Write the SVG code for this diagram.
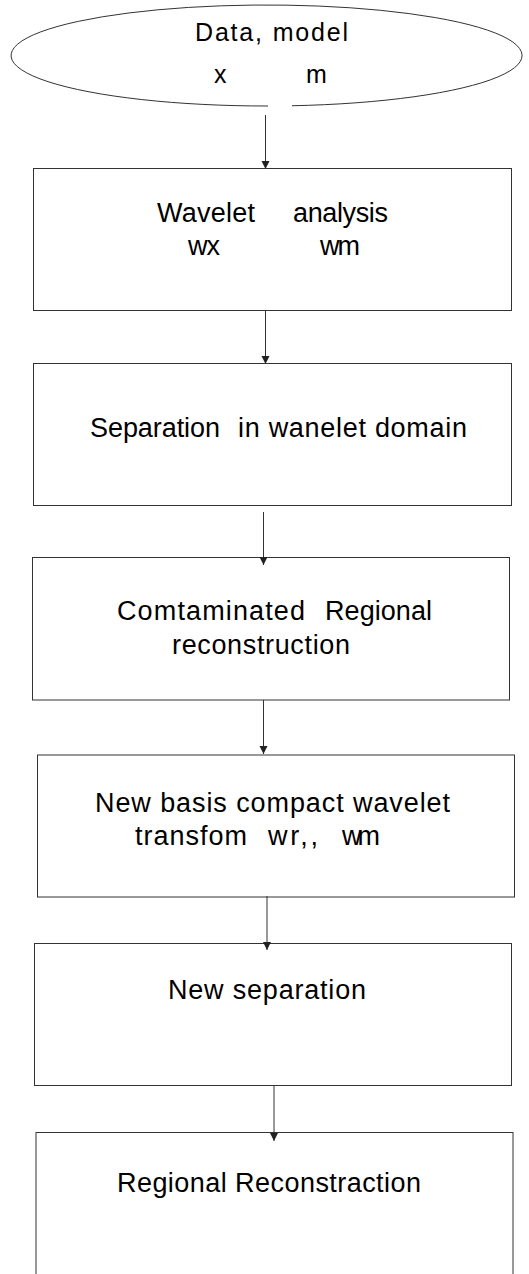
<svg xmlns="http://www.w3.org/2000/svg" width="529" height="1274" viewBox="0 0 529 1274">
<style>
.box{fill:none;stroke:#333;stroke-width:1}
.conn{fill:none;stroke:#333;stroke-width:1}
text{font-family:"Liberation Sans",Arial,sans-serif;fill:#000}
.t24{font-size:25px}
.t26{font-size:27px}
</style>
<defs>
<marker id="arr" markerUnits="userSpaceOnUse" markerWidth="10" markerHeight="9" viewBox="0 0 10 9" refX="8" refY="4.5" orient="auto">
<path d="M0,0.5 L8,4.5 L0,8.5 Z" fill="#222"/>
</marker>
</defs>
<rect width="529" height="1274" fill="#fff"/>
<g id="start">
<path class="box" d="M292,105.75 A255.5,50.5 0 1 0 268,106"/>
<text class="t24"><tspan x="195" y="41" textLength="153" lengthAdjust="spacing">Data, model</tspan></text>
<text class="t24"><tspan x="214" y="83">x</tspan><tspan x="306" y="83">m</tspan></text>
</g>
<g id="wavelet-analysis">
<rect class="box" x="33.5" y="168.5" width="478" height="142"/>
<text class="t26"><tspan x="157" y="222" textLength="98" lengthAdjust="spacing">Wavelet</tspan><tspan x="293" y="222" textLength="95" lengthAdjust="spacing">analysis</tspan></text>
<text class="t26"><tspan x="188" y="255" textLength="32" lengthAdjust="spacing">wx</tspan><tspan x="320" y="255" textLength="40" lengthAdjust="spacing">wm</tspan></text>
</g>
<g id="separation">
<rect class="box" x="33.5" y="363.5" width="478" height="142"/>
<text class="t26"><tspan x="90" y="437" textLength="130" lengthAdjust="spacing">Separation</tspan><tspan x="238" y="437" textLength="229" lengthAdjust="spacing">in wanelet domain</tspan></text>
</g>
<g id="contaminated">
<rect class="box" x="32.5" y="557.5" width="477" height="142.5"/>
<text class="t26"><tspan x="117" y="620" textLength="188" lengthAdjust="spacing">Comtaminated</tspan><tspan x="325" y="620" textLength="107" lengthAdjust="spacing">Regional</tspan></text>
<text class="t26"><tspan x="172" y="654" textLength="178" lengthAdjust="spacing">reconstruction</tspan></text>
</g>
<g id="new-basis">
<rect class="box" x="37.5" y="755" width="477" height="142"/>
<text class="t26"><tspan x="95" y="812" textLength="355" lengthAdjust="spacing">New basis compact  wavelet</tspan></text>
<text class="t26"><tspan x="135" y="845" textLength="112" lengthAdjust="spacing">transfom</tspan><tspan x="268" y="845" textLength="50" lengthAdjust="spacing">wr,,</tspan><tspan x="342" y="845" textLength="38" lengthAdjust="spacing">wm</tspan></text>
</g>
<g id="new-separation">
<rect class="box" x="34.5" y="943.5" width="477" height="142"/>
<text class="t26"><tspan x="168" y="999" textLength="198" lengthAdjust="spacing">New  separation</tspan></text>
</g>
<g id="regional-reconstraction">
<rect class="box" x="36" y="1132.5" width="477" height="200"/>
<text class="t26"><tspan x="117" y="1192" textLength="304" lengthAdjust="spacing">Regional  Reconstraction</tspan></text>
</g>
<g id="connectors">
<line class="conn" x1="265.5" y1="115" x2="265.5" y2="169" marker-end="url(#arr)"/>
<line class="conn" x1="265.5" y1="311" x2="265.5" y2="364" marker-end="url(#arr)"/>
<line class="conn" x1="263.5" y1="512" x2="263.5" y2="565" marker-end="url(#arr)"/>
<line class="conn" x1="263.5" y1="700" x2="263.5" y2="754" marker-end="url(#arr)"/>
<line class="conn" x1="267" y1="896" x2="267" y2="950" marker-end="url(#arr)"/>
<line class="conn" x1="274" y1="1086" x2="274" y2="1141" marker-end="url(#arr)"/>
</g>
</svg>
